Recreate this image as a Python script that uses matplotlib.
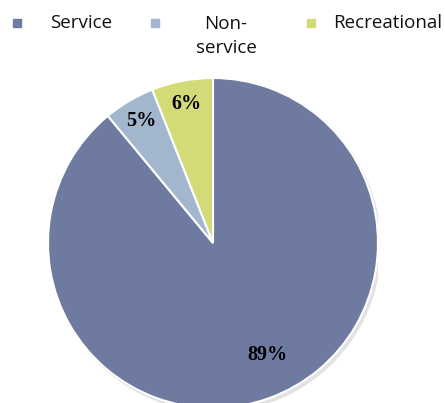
import matplotlib.pyplot as plt
from matplotlib.patches import Rectangle, Circle

# data
labels = ["Service", "Non-\nservice", "Recreational"]
values = [89, 5, 6]
colors = ["#6F7AA1", "#A2B6CD", "#D2DB78"]

fig = plt.figure(figsize=(4.45, 4.03), dpi=100)
ax = fig.add_axes([48 / 445, -5 / 403, 330 / 445, 330 / 403])
ax.set_xlim(-1, 1)
ax.set_ylim(-1, 1)
ax.set_aspect("equal")
ax.axis("off")

# soft shadow behind the pie
ax.add_patch(Circle((0.015, -0.02), 1.0, color="#e2e2e2", zorder=0))

wedges, texts, autotexts = ax.pie(
    values, colors=colors, startangle=90, counterclock=False,
    autopct="%d%%", pctdistance=0.86, radius=1.0,
    wedgeprops=dict(edgecolor="white", linewidth=1.5),
    textprops=dict(family="Liberation Serif", fontweight="bold", fontsize=14.5),
)
ax.set_xlim(-1, 1)
ax.set_ylim(-1, 1)
autotexts[0].set_position((0.33, -0.68))

# legend drawn by hand to match the layout
leg_x = [17, 155, 311]
text_x = [81, 226, 388]
for lx, tx, lab, col in zip(leg_x, text_x, labels, colors):
    fig.add_artist(Rectangle((lx / 445 - 0.01, 1 - 27 / 403), 8 / 445, 8 / 403,
                             transform=fig.transFigure, color=col))
    y = 1 - 23 / 403 if "\n" not in lab else 1 - 36 / 403
    fig.text(tx / 445, y, lab, ha="center", va="center", fontsize=13.5,
             family="Open Sans", linespacing=1.45, color="#111111")

fig.savefig("out.png", dpi=100)
